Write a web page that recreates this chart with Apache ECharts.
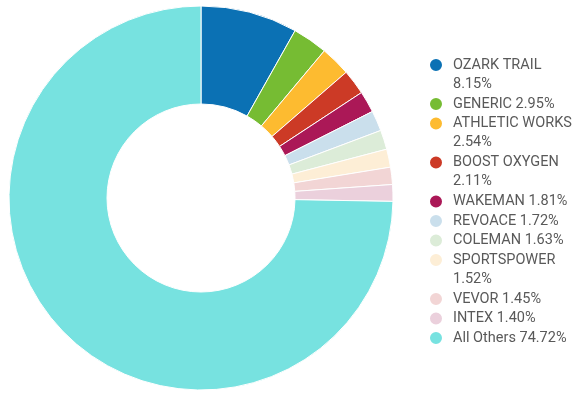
<!DOCTYPE html>
<html>
<head>
<meta charset="utf-8">
<style>
  html, body { margin: 0; padding: 0; background: #ffffff; }
  #chart { width: 576px; height: 397px; }
</style>
<script src="https://cdn.jsdelivr.net/npm/echarts@6/dist/echarts.min.js"></script>
</head>
<body>
<div id="chart"></div>
<script>
const categories = ['OZARK TRAIL', 'GENERIC', 'ATHLETIC WORKS', 'BOOST OXYGEN', 'WAKEMAN', 'REVOACE', 'COLEMAN', 'SPORTSPOWER', 'VEVOR', 'INTEX', 'All Others'];
const shares = [8.15, 2.95, 2.54, 2.11, 1.81, 1.72, 1.63, 1.52, 1.45, 1.40, 74.72];
const shareLabels = ['8.15%', '2.95%', '2.54%', '2.11%', '1.81%', '1.72%', '1.63%', '1.52%', '1.45%', '1.40%', '74.72%'];
const wrappedLabels = ['OZARK TRAIL', 'ATHLETIC WORKS', 'BOOST OXYGEN', 'SPORTSPOWER'];
const colors = ['#0b71b4', '#76bc33', '#fdbb30', '#cc3a26', '#ab1857', '#cadfec', '#dcecd8', '#fdeed6', '#f2d5d5', '#ebd0dc', '#77e2e0'];

const chart = echarts.init(document.getElementById('chart'), null, { renderer: 'canvas' });

const LINE = 19.5;
const TEXT_LINE = 19;
const FIRST_CENTER = 65;
let line = 0;
const legends = categories.map(function (name, i) {
  const wrap = wrappedLabels.indexOf(name) >= 0;
  const c = FIRST_CENTER + LINE * line;
  line += wrap ? 2 : 1;
  return {
    data: [name],
    orient: 'vertical',
    left: 428,
    top: wrap ? c - TEXT_LINE * 1.5 : c - TEXT_LINE / 2,
    padding: 0,
    icon: 'circle',
    itemWidth: 24,
    itemHeight: 14,
    formatter: function (n) {
      const idx = categories.indexOf(n);
      return wrap ? '\n' + n + '\n' + shareLabels[idx] : n + ' ' + shareLabels[idx];
    },
    textStyle: {
      fontFamily: 'Roboto',
      fontSize: 14.5,
      color: '#595959',
      lineHeight: TEXT_LINE
    }
  };
});

const option = {
  backgroundColor: '#ffffff',
  animation: false,
  color: colors,
  legend: legends,
  series: [{
    type: 'pie',
    center: [201, 198],
    radius: [94, 192],
    startAngle: 90,
    clockwise: true,
    avoidLabelOverlap: false,
    label: { show: false },
    labelLine: { show: false },
    emphasis: { scale: false },
    itemStyle: { borderColor: '#ffffff', borderWidth: 1 },
    data: categories.map(function (n, i) { return { name: n, value: shares[i] }; })
  }]
};
chart.setOption(option);
</script>
</body>
</html>
